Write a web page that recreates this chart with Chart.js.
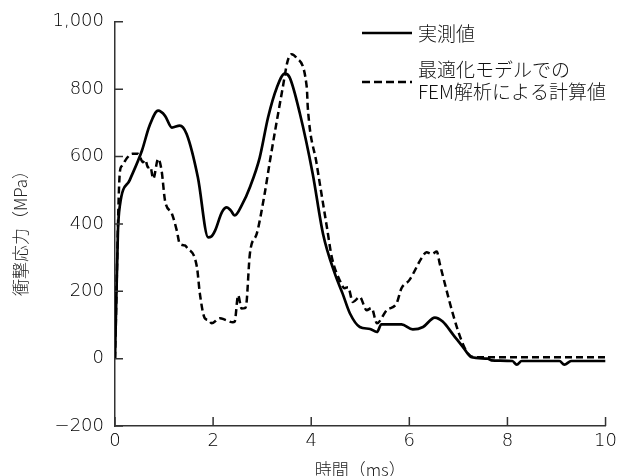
<!DOCTYPE html>
<html>
<head>
<meta charset="utf-8">
<script src="https://cdn.jsdelivr.net/npm/chart.js@4/dist/chart.umd.min.js"></script>
<style>
    html, body { margin: 0; padding: 0; background: #fff; }
    #chartBox { width: 622px; height: 476px; }
</style>
</head>
<body>
<div id="chartBox"><canvas id="stressChart"></canvas></div>

<script>
// 実測値
const measuredTime = [0, 0.06, 0.1, 0.3, 0.55, 0.7, 0.88, 1.02, 1.16, 1.32, 1.46, 1.69, 1.9, 1.96, 2.04, 2.18, 2.28, 2.36, 2.44, 2.6, 2.75, 2.95, 3.12, 3.3, 3.46, 3.56, 3.77, 4.03, 4.24, 4.48, 4.64, 4.79, 4.99, 5.2, 5.34, 5.43, 5.84, 6.07, 6.28, 6.52, 6.68, 6.9, 7.09, 7.27, 7.6, 7.67, 8.1, 8.19, 8.29, 9.06, 9.16, 9.3, 10];
const measuredStress = [0, 379, 455, 530, 618, 690, 736, 721, 686, 692, 667, 538, 360, 362, 380, 435, 449, 440, 425, 460, 509, 597, 716, 805, 846, 835, 727, 549, 371, 253, 193, 134, 94, 88, 79, 102, 102, 87, 94, 122, 110, 70, 35, 4, 0, -5, -7, -18, -7, -7, -18, -7, -7];

// 最適化モデルでのFEM解析による計算値
const femTime = [0, 0.1, 0.14, 0.24, 0.35, 0.47, 0.57, 0.62, 0.67, 0.72, 0.78, 0.88, 0.95, 1.02, 1.16, 1.26, 1.32, 1.43, 1.46, 1.67, 1.73, 1.83, 1.9, 1.97, 2.14, 2.25, 2.4, 2.44, 2.51, 2.58, 2.65, 2.68, 2.75, 2.89, 3.05, 3.16, 3.42, 3.52, 3.6, 3.7, 3.91, 3.93, 4.11, 4.32, 4.42, 4.58, 4.68, 4.75, 4.85, 4.99, 5.13, 5.23, 5.34, 5.54, 5.74, 5.84, 6.0, 6.26, 6.35, 6.46, 6.56, 6.62, 6.99, 7.19, 7.37, 10];
const femStress = [0, 555, 572, 595, 608, 608, 583, 590, 568, 570, 534, 593, 558, 469, 430, 380, 341, 336, 331, 272, 193, 120, 115, 105, 120, 115, 108, 110, 188, 149, 150, 164, 312, 371, 489, 588, 805, 884, 904, 893, 805, 746, 579, 390, 301, 233, 209, 212, 168, 183, 144, 150, 105, 144, 164, 209, 233, 301, 316, 311, 318, 282, 84, 16, 4, 4];

const xTicks = [0, 2, 4, 6, 8, 10];
const yTicks = [-200, 0, 200, 400, 600, 800, 1000];

const seriesNames = ['実測値', ['最適化モデルでの', 'FEM解析による計算値']];
const xTitle = '時間（ms）';
const yTitle = '衝撃応力（MPa）';

const FONT = '"Noto Sans CJK JP", "Noto Sans", sans-serif';
const NUM_FONT = '"DejaVu Sans", "Noto Sans", sans-serif';
const INK = '#333';

function toPoints(xs, ys) {
    return xs.map((x, i) => ({ x: x, y: ys[i] }));
}

function formatTick(v) {
    if (v < 0) return '\u2212' + Math.abs(v).toLocaleString('en-US');
    return v.toLocaleString('en-US');
}

// inward tick marks, axis titles and the legend
const decorations = {
    id: 'decorations',
    afterDraw(chart) {
        const ctx = chart.ctx;
        const area = chart.chartArea;
        const xs = chart.scales.x;
        const ys = chart.scales.y;

        ctx.save();
        ctx.strokeStyle = INK;
        ctx.lineWidth = 1.5;
        ctx.beginPath();
        for (const t of xTicks) {
            const px = xs.getPixelForValue(t);
            ctx.moveTo(px, area.bottom);
            ctx.lineTo(px, area.bottom - 9);
        }
        for (const t of yTicks) {
            const py = ys.getPixelForValue(t);
            ctx.moveTo(area.left, py);
            ctx.lineTo(area.left + 8, py);
        }
        ctx.stroke();

        ctx.fillStyle = '#222';
        ctx.font = '300 17px ' + FONT;
        ctx.textAlign = 'center';
        ctx.textBaseline = 'middle';
        ctx.fillText(xTitle, (area.left + area.right) / 2, 470);

        ctx.save();
        ctx.translate(21, 229);
        ctx.rotate(-Math.PI / 2);
        ctx.fillText(yTitle, 0, 0);
        ctx.restore();

        // legend
        ctx.strokeStyle = '#000';
        ctx.lineWidth = 2.5;
        ctx.beginPath();
        ctx.moveTo(362, 33);
        ctx.lineTo(412, 33);
        ctx.stroke();
        ctx.setLineDash([8, 4]);
        ctx.beginPath();
        ctx.moveTo(362, 82);
        ctx.lineTo(412, 82);
        ctx.stroke();
        ctx.setLineDash([]);

        ctx.fillStyle = '#111';
        ctx.font = '300 19px ' + FONT;
        ctx.textAlign = 'left';
        ctx.fillText(seriesNames[0], 418, 34);
        ctx.fillText(seriesNames[1][0], 418, 70);
        ctx.fillText(seriesNames[1][1], 418, 92);
        ctx.restore();
    }
};

new Chart(document.getElementById('stressChart'), {
    type: 'line',
    data: {
        datasets: [{
            label: '実測値',
            data: toPoints(measuredTime, measuredStress),
            borderColor: '#000',
            borderWidth: 2.7,
            pointRadius: 0,
            cubicInterpolationMode: 'monotone',
            fill: false
        }, {
            label: '最適化モデルでのFEM解析による計算値',
            data: toPoints(femTime, femStress),
            borderColor: '#000',
            borderWidth: 2.5,
            borderDash: [7, 4],
            pointRadius: 0,
            cubicInterpolationMode: 'monotone',
            fill: false
        }]
    },
    options: {
        responsive: true,
        maintainAspectRatio: false,
        animation: false,
        layout: { padding: { left: 0, right: 16, top: 20, bottom: 0 } },
        plugins: {
            legend: { display: false },
            tooltip: { enabled: false }
        },
        scales: {
            x: {
                type: 'linear',
                min: 0,
                max: 10,
                afterBuildTicks(scale) { scale.ticks = xTicks.map(v => ({ value: v })); },
                afterFit(scale) { scale.height = 50; },
                grid: { display: false, drawTicks: false },
                border: { display: true, color: INK, width: 1.5 },
                ticks: { color: '#000', font: { family: NUM_FONT, size: 18, weight: 200 }, padding: 5, maxRotation: 0, callback: formatTick }
            },
            y: {
                type: 'linear',
                min: -200,
                max: 1000,
                afterBuildTicks(scale) { scale.ticks = yTicks.map(v => ({ value: v })); },
                afterFit(scale) { scale.width = 115; },
                grid: { display: false, drawTicks: false },
                border: { display: true, color: INK, width: 1.5 },
                ticks: { color: '#000', font: { family: NUM_FONT, size: 18, weight: 200 }, padding: 11, callback: formatTick }
            }
        }
    },
    plugins: [decorations]
});
</script>
</body>
</html>
